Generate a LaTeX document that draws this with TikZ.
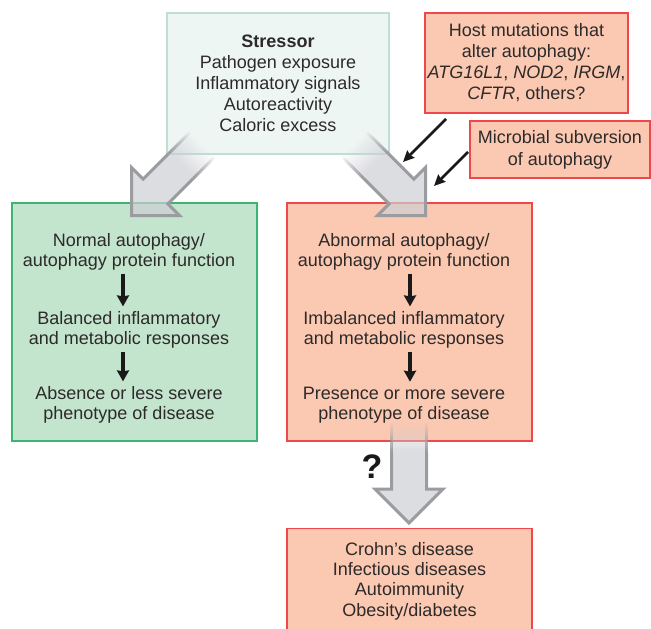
\documentclass[tikz,border=0pt]{standalone}
\usepackage{fontspec}
\setmainfont{Liberation Sans}
\usetikzlibrary{arrows.meta,positioning}

\definecolor{stressfill}{RGB}{238,246,244}
\definecolor{stressline}{RGB}{194,220,216}
\definecolor{goodfill}{RGB}{195,228,205}
\definecolor{goodline}{RGB}{60,180,115}
\definecolor{badfill}{RGB}{251,200,177}
\definecolor{badline}{RGB}{238,72,76}
\definecolor{bigfill}{RGB}{205,206,212}
\definecolor{bigline}{RGB}{155,156,160}
\definecolor{txt}{RGB}{45,42,42}

\tikzset{
  panel/.style={rectangle, inner sep=0pt, line width=1.2pt, text=txt, align=center,
    font=\fontsize{18}{21}\selectfont},
  stressbox/.style={panel, fill=stressfill, draw=stressline},
  goodbox/.style={panel, fill=goodfill, draw=goodline},
  badbox/.style={panel, fill=badfill, draw=badline},
  txtnode/.style={align=center, text=txt, inner sep=0pt, font=\fontsize{18}{20}\selectfont},
  flow/.style={-{Stealth[length=11pt,width=12pt,inset=1pt]}, line width=3.4pt, black!90,
    shorten <=3pt, shorten >=5pt},
  pointer/.style={-{Stealth[length=11pt,width=10pt,inset=1pt]}, line width=2.6pt, black!90},
  % wide grey arrow with a fading tail, tip at the origin
  bigarrow/.pic={
    \foreach \k [evaluate=\k as \ya using -100+2.5*(\k-1),
                 evaluate=\k as \yb using -100+2.5*\k,
                 evaluate=\k as \fop using 0.7*\k/12,
                 evaluate=\k as \dop using \k/12] in {1,...,12} {
      \fill[bigfill, fill opacity=\fop] (-17.5,\ya) rectangle (17.5,\yb);
      \draw[bigline, line width=3pt, draw opacity=\dop]
        (-17.5,\ya) -- (-17.5,\yb) (17.5,\ya) -- (17.5,\yb);
    }
    \fill[bigfill, fill opacity=0.7] (-17.5,-70) -- (-17.5,-34) -- (-34,-34) -- (0,0)
      -- (34,-34) -- (17.5,-34) -- (17.5,-70) -- cycle;
    \draw[bigline, line width=3pt] (-17.5,-70) -- (-17.5,-34) -- (-34,-34) -- (0,0)
      -- (34,-34) -- (17.5,-34) -- (17.5,-70);
  }
}

\begin{document}
\begin{tikzpicture}[x=1pt, y=-1pt, line join=miter]
  \useasboundingbox (0,0) rectangle (651,629);

  % top boxes
  \node[stressbox, minimum width=222pt, minimum height=141pt] (stressor) at (278,83.5)
    {\textbf{Stressor}\\Pathogen exposure\\Inflammatory signals\\Autoreactivity\\Caloric excess};
  \node[badbox, minimum width=203pt, minimum height=100pt] (host) at (526.5,63)
    {Host mutations that\\alter autophagy:\\\textit{ATG16L1}, \textit{NOD2}, \textit{IRGM},\\\textit{CFTR}, others?};
  \node[badbox, minimum width=180pt, minimum height=57pt, font=\fontsize{18}{22}\selectfont] (microbe) at (560,149.5)
    {Microbial subversion\\of autophagy};

  % the two columns
  \node[goodbox, minimum width=245pt, minimum height=238pt] (goodpanel) at (134.5,322) {};
  \node[badbox, minimum width=245pt, minimum height=238pt] (badpanel) at (409.5,322) {};

  % disease box, cut by the lower edge
  \node[badbox, minimum width=245pt, minimum height=105pt, anchor=north,
    font=\fontsize{18}{20.4}\selectfont] (diseases) at (409.5,528)
    {Crohn’s disease\\Infectious diseases\\Autoimmunity\\Obesity/diabetes};

  % big grey arrows
  \pic[rotate=-45] (leftbig) at (131.5,215.5) {bigarrow};
  \pic[rotate=45] (rightbig) at (425.5,215.5) {bigarrow};
  \pic (downbig) at (409,523) {bigarrow};

  \node[font=\fontsize{34}{34}\selectfont\bfseries, text=black!90, inner sep=0pt] (query) at (372,467) {?};

  % column texts
  \node[txtnode] (normal) at (129,252) {Normal autophagy/\\autophagy protein function};
  \node[txtnode] (balanced) at (129,330) {Balanced inflammatory\\and metabolic responses};
  \node[txtnode] (absence) at (129,405) {Absence or less severe\\phenotype of disease};
  \node[txtnode] (abnormal) at (404,252) {Abnormal autophagy/\\autophagy protein function};
  \node[txtnode] (imbalanced) at (404,330) {Imbalanced inflammatory\\and metabolic responses};
  \node[txtnode] (presence) at (404,405) {Presence or more severe\\phenotype of disease};

  \draw[flow] ([xshift=-6pt]normal.south) -- ([xshift=-6pt]balanced.north);
  \draw[flow] ([xshift=-6pt]balanced.south) -- ([xshift=-6pt]absence.north);
  \draw[flow] ([xshift=6pt]abnormal.south) -- ([xshift=6pt]imbalanced.north);
  \draw[flow] ([xshift=6pt]imbalanced.south) -- ([xshift=6pt]presence.north);

  % pointers onto the right arrow
  \coordinate (hostfoot) at (446,119);
  \coordinate (hostaim) at (403,162);
  \coordinate (microbefoot) at (468,152);
  \coordinate (microbeaim) at (434,186);
  \draw[pointer] (hostfoot) -- (hostaim);
  \draw[pointer] (microbefoot) -- (microbeaim);
\end{tikzpicture}
\end{document}
